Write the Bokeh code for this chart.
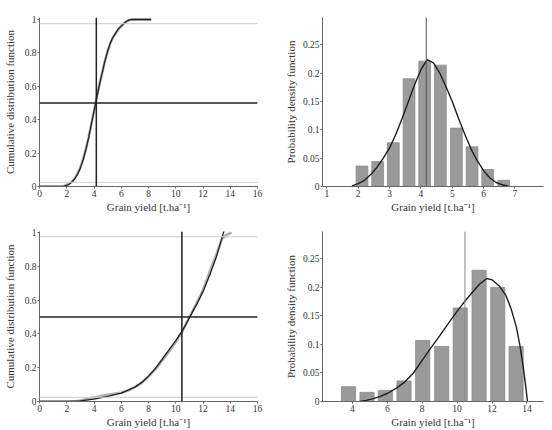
from bokeh.plotting import figure
from bokeh.layouts import column, row
from bokeh.models import Span, FixedTicker, NumeralTickFormatter, Range1d
from bokeh.embed import file_html
from bokeh.resources import INLINE

SERIF = "Liberation Serif"
XLABEL = "Grain yield [t.ha\u207b\u00b9]"

# ---- upper row: first yield sample -------------------------------------
cdf1_x = [0, 1.6, 1.8, 2.0, 2.2, 2.4, 2.6, 2.8, 3.0, 3.2, 3.4, 3.6, 3.8, 4.0,
          4.2, 4.4, 4.6, 4.8, 5.0, 5.2, 5.4, 5.6, 5.8, 6.0, 6.2, 6.4, 6.6, 6.8, 8.2]
cdf1_y = [0, 0, 0.002, 0.007, 0.015, 0.028, 0.048, 0.075, 0.11, 0.16, 0.22, 0.29,
          0.37, 0.45, 0.53, 0.61, 0.68, 0.75, 0.81, 0.86, 0.895, 0.92, 0.945,
          0.962, 0.978, 0.99, 0.998, 1.0, 1.0]
emp1_y = [0, 0, 0.003, 0.009, 0.018, 0.031, 0.05, 0.078, 0.114, 0.163, 0.222,
          0.292, 0.372, 0.452, 0.532, 0.612, 0.682, 0.752, 0.81, 0.858, 0.893,
          0.918, 0.942, 0.96, 0.976, 0.989, 0.997, 1.0, 1.0]
median1 = 4.17

bins1 = [2.12, 2.62, 3.12, 3.62, 4.12, 4.62, 5.13, 5.63, 6.13, 6.64]
freq1 = [0.036, 0.044, 0.077, 0.190, 0.221, 0.214, 0.103, 0.070, 0.030, 0.011]

pdf1_x = [1.8, 2.0, 2.2, 2.4, 2.6, 2.8, 3.0, 3.2, 3.4, 3.6, 3.8, 4.0, 4.2, 4.4,
          4.6, 4.8, 5.0, 5.2, 5.4, 5.6, 5.8, 6.0, 6.2, 6.4, 6.6, 6.8]
pdf1_y = [0.001, 0.005, 0.011, 0.021, 0.034, 0.050, 0.068, 0.092, 0.120, 0.150,
          0.180, 0.206, 0.2236, 0.218, 0.200, 0.176, 0.150, 0.120, 0.092, 0.066,
          0.045, 0.028, 0.015, 0.007, 0.003, 0.0]

# ---- lower row: second yield sample ------------------------------------
cdf2_x = [0, 2, 3, 4, 5, 6, 7, 7.5, 8, 8.5, 9, 9.5, 10, 10.5, 11, 11.5, 12,
          12.5, 13, 13.25, 13.55]
cdf2_y = [0, 0, 0.004, 0.014, 0.03, 0.05, 0.085, 0.113, 0.15, 0.195, 0.25,
          0.305, 0.36, 0.42, 0.495, 0.57, 0.65, 0.75, 0.86, 0.93, 1.012]
emp2_x = [0, 2.5, 3, 3.5, 4, 4.5, 5, 5.5, 6, 6.5, 7, 7.5, 8, 8.5, 9, 9.5, 10,
          10.5, 11, 11.5, 12, 12.5, 13, 13.4, 13.7, 14.1]
emp2_y = [0, 0, 0.006, 0.014, 0.024, 0.032, 0.04, 0.046, 0.052, 0.065, 0.085,
          0.11, 0.148, 0.19, 0.242, 0.295, 0.352, 0.418, 0.5, 0.575, 0.66,
          0.77, 0.875, 0.962, 0.985, 1.0]
median2 = 10.45

bins2 = [3.78, 4.84, 5.89, 6.96, 8.03, 9.12, 10.18, 11.26, 12.33, 13.38]
freq2 = [0.026, 0.016, 0.0195, 0.036, 0.107, 0.0965, 0.164, 0.230, 0.200, 0.0965]

pdf2_x = [4.4, 4.8, 5.2, 5.6, 6.0, 6.5, 7.0, 7.5, 8.0, 8.5, 9.0, 9.5, 10.0,
          10.5, 11.0, 11.3, 11.7, 12.0, 12.4, 12.8, 13.1, 13.4, 13.6, 13.8,
          13.95, 14.03]
pdf2_y = [0.0, 0.002, 0.005, 0.009, 0.014, 0.023, 0.034, 0.050, 0.072, 0.094,
          0.115, 0.137, 0.158, 0.178, 0.196, 0.206, 0.2155, 0.2135, 0.203,
          0.186, 0.162, 0.130, 0.098, 0.058, 0.022, 0.0]

# confidence levels drawn as faint guides on the CDF panels
levels = [0.025, 0.975]

CDF_TICKS = [0, 0.2, 0.4, 0.6, 0.8, 1.0]
PDF_TICKS = [0, 0.05, 0.1, 0.15, 0.2, 0.25]


def make_fig(xr, yr, xticks, yticks, ylabel, left, right, top, bottom, standoff):
    p = figure(width=276, height=215, x_range=Range1d(*xr), y_range=Range1d(*yr),
               output_backend="svg", toolbar_location=None,
               min_border_left=left, min_border_right=right,
               min_border_top=top, min_border_bottom=bottom)
    p.outline_line_color = None
    p.xgrid.visible = False
    p.ygrid.visible = False
    p.background_fill_color = "white"
    p.border_fill_color = "white"
    p.xaxis.ticker = FixedTicker(ticks=xticks)
    p.yaxis.ticker = FixedTicker(ticks=yticks)
    p.yaxis.formatter = NumeralTickFormatter(format="0.[00]")
    p.xaxis.axis_label = XLABEL
    p.yaxis.axis_label = ylabel
    for ax in (p.xaxis[0], p.yaxis[0]):
        ax.axis_line_color = "#666666"
        ax.major_tick_line_color = "#666666"
        ax.major_tick_out = 2
        ax.major_tick_in = 0
        ax.minor_tick_line_color = None
        ax.major_label_text_font = SERIF
        ax.major_label_text_font_size = "9.5px"
        ax.major_label_text_color = "#333333"
        ax.axis_label_text_font = SERIF
        ax.axis_label_text_font_size = "11px"
        ax.axis_label_text_font_style = "normal"
        ax.axis_label_text_color = "#333333"
        ax.major_label_standoff = 1
    p.xaxis.axis_label_standoff = 1
    p.yaxis.axis_label_standoff = standoff
    return p


def cdf_panel(cx, cy, ex, ey, med, top, bottom, ytop):
    p = make_fig((0, 16), (0, ytop), list(range(0, 17, 2)), CDF_TICKS,
                 "Cumulative distribution function", 36, 19, top, bottom, 6)
    for lv in levels:
        p.add_layout(Span(location=lv, dimension="width",
                          line_color="#cccccc", line_width=1))
    p.line(ex, ey, line_color="#b0b0b0", line_width=2.6)
    p.line(cx, cy, line_color="#222222", line_width=1.3)
    p.add_layout(Span(location=med, dimension="height",
                      line_color="#222222", line_width=1.5))
    p.add_layout(Span(location=0.5, dimension="width",
                      line_color="#222222", line_width=1.5))
    return p


def pdf_panel(xr, xticks, centers, freq, width, px, py, med, top, bottom, line_col):
    p = make_fig(xr, (0, 0.298), xticks, PDF_TICKS,
                 "Probability density function", 46, 9, top, bottom, 3)
    p.vbar(x=centers, top=freq, width=width, bottom=0,
           fill_color="#9a9a9a", line_color="#8a8a8a", line_width=0.8)
    p.add_layout(Span(location=med, dimension="height",
                      line_color=line_col, line_width=1))
    p.line(px, py, line_color="#1e1e1e", line_width=1.4)
    return p


p1 = cdf_panel(cdf1_x, cdf1_y, cdf1_x, emp1_y, median1, 15, 26, 1.012)
p2 = pdf_panel((0.86, 7.91), list(range(1, 8)), bins1, freq1, 0.375,
               pdf1_x, pdf1_y, median1, 17, 25, "#555555")
p3 = cdf_panel(cdf2_x, cdf2_y, emp2_x, emp2_y, median2, 15, 26, 1.006)
p4 = pdf_panel((2.29, 14.95), list(range(4, 15, 2)), bins2, freq2, 0.81,
               pdf2_x, pdf2_y, median2, 16, 26, "#8a8a8a")

layout = column(row(p1, p2, spacing=0), row(p3, p4, spacing=0), spacing=0)

open("out.html", "w").write(file_html(layout, INLINE))
